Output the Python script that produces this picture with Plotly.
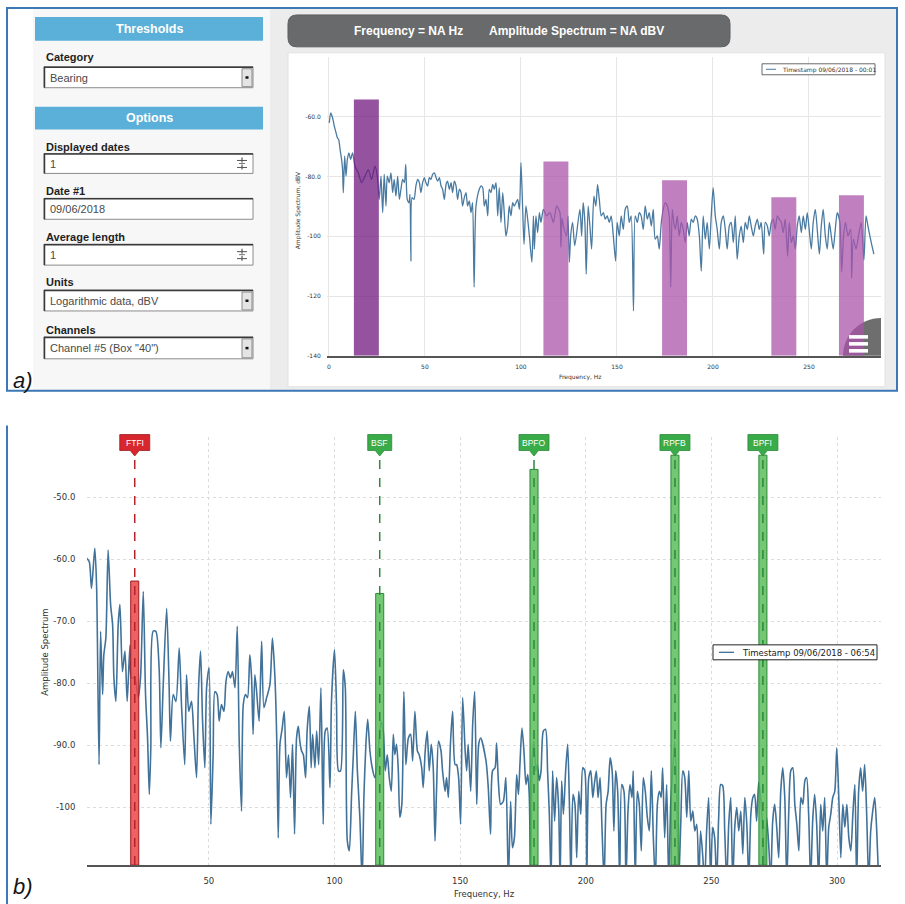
import plotly.graph_objects as go

W, H = 905, 904

# ---------------- spectrum, panel a (Timestamp 09/06/2018 - 00:01) ----------------
TOP_FREQ = [
    0.2, 0.9, 1.9, 2.8, 3.7, 4.4, 5.1, 5.8, 6.6, 7.1, 7.5, 8.2, 8.9, 9.6, 10.4, 11.3, 12.3, 13.6,
    15.3, 17.0, 18.8, 20.5, 22.2, 24.0, 25.2, 26.2, 27.1, 28.0, 28.8, 29.7, 30.4, 31.4, 32.3, 33.2,
    34.0, 34.9, 35.8, 36.7, 37.5, 38.4, 39.3, 40.0, 40.8, 41.7, 42.2, 42.7, 43.3, 44.3, 45.3, 46.2,
    47.1, 47.9, 48.8, 49.7, 50.5, 51.4, 52.3, 53.1, 54.0, 54.9, 55.8, 56.6, 57.5, 58.4, 59.2, 60.1,
    61.0, 61.8, 62.7, 63.6, 64.4, 65.3, 66.2, 67.0, 67.9, 68.8, 69.6, 70.5, 71.4, 72.2, 73.1, 74.0,
    74.8, 75.6, 76.6, 78.3, 79.2, 80.1, 80.9, 81.8, 82.7, 83.5, 84.4, 85.3, 86.1, 87.0, 87.9, 88.7,
    89.6, 90.5, 91.3, 92.2, 93.1, 93.9, 94.8, 95.7, 96.5, 97.4, 98.3, 99.2, 100.0, 100.9, 101.6,
    102.6, 103.5, 104.4, 105.7, 106.5, 107.0, 107.8, 108.7, 109.6, 110.4, 111.7, 113.4, 115.1,
    116.9, 118.6, 120.3, 120.8, 121.4, 122.1, 123.8, 124.5, 125.2, 125.9, 126.9, 128.0,
    130.7, 131.6, 132.4, 133.3, 134.0, 135.0, 135.9, 136.8, 138.0, 139.0, 139.9, 140.8, 141.8,
    142.9, 143.9, 144.9, 146.0, 147.0, 148.1, 149.3, 150.1, 151.2, 152.2, 153.3, 154.3, 155.4,
    156.4, 157.4, 158.6, 159.5, 160.6, 161.6, 162.6, 163.7, 164.7, 165.8, 166.8, 167.9, 168.9,
    169.9, 171.0, 172.0, 173.1, 174.1, 175.1, 176.2, 177.2, 178.0, 178.8, 179.6, 180.4, 181.4,
    182.4, 183.5, 184.5, 185.6, 186.6, 187.6, 188.7, 189.7, 190.8, 191.8, 192.9, 193.9, 194.9,
    196.0, 197.0, 198.1, 199.1, 200.1, 201.2, 202.2, 203.3, 204.3, 205.4, 206.4, 207.4, 208.5,
    209.5, 210.6, 211.6, 212.6, 213.7, 214.7, 215.8, 216.8, 217.9, 218.9, 219.9, 221.0, 222.0,
    223.1, 224.1, 225.1, 226.4, 227.2, 228.3, 229.3, 230.4, 231.4, 232.4, 233.5, 234.5, 235.6,
    236.6, 237.6, 238.9, 239.7, 240.8, 241.8, 242.9, 243.9, 244.9, 246.0, 247.0, 248.1, 249.1,
    250.1, 251.2, 252.2, 253.3, 254.3, 255.4, 256.4, 257.4, 258.5, 259.5, 260.6, 261.6, 262.6,
    263.7, 264.7, 266.1, 267.0, 268.0, 269.0, 270.3, 271.7, 272.2, 273.1, 274.5, 275.8, 277.2,
    278.6, 279.7, 280.7, 281.7, 282.8, 283.8,
]
TOP_AMP = [
    -62.1, -58.8, -60.4, -63.2, -65.4, -67.1, -67.7, -71.0, -74.3, -77.7, -85.4, -73.2, -79.9, -74.3, -72.1, -74.3, -72.1, -76.6,
    -78.8, -82.1, -79.9, -77.7, -81.0, -76.6, -79.9, -87.7, -79.9, -92.1, -79.3, -89.9, -79.9, -82.1, -78.8, -85.4,
    -81.0, -86.6, -79.9, -87.7, -84.3, -81.0, -82.1, -76.0, -87.7, -88.8, -86.0, -108.3, -87.1, -87.7, -83.2, -81.0,
    -82.1, -85.4, -82.1, -80.4, -82.1, -83.2, -80.4, -81.0, -79.3, -78.8, -80.4, -81.6, -80.4, -83.2, -84.3, -87.7,
    -82.7, -81.6, -84.3, -82.1, -85.4, -81.6, -83.2, -87.7, -84.3, -85.4, -89.9, -87.1, -85.4, -89.9, -88.2, -92.1,
    -88.8, -117.0, -89.9, -84.3, -83.2, -83.8, -89.9, -87.7, -93.2, -84.3, -85.4, -82.7, -84.3, -82.1, -93.2, -83.8,
    -95.4, -85.4, -92.1, -100.0, -96.6, -89.9, -93.2, -88.8, -89.9, -88.8, -87.7, -91.0, -75.4, -91.0, -102.7,
    -89.9, -94.3, -99.9, -108.7, -93.2, -104.3, -93.2, -98.8, -92.1, -95.4, -91.0, -93.2, -92.1,
    -95.4, -89.9, -92.1, -103.7, -94.0, -96.6, -99.9, -93.2, -108.7, -99.9, -95.4, -103.2,
    -91.0, -99.9, -88.8, -95.4, -112.7, -89.9, -96.6, -104.3, -86.6, -89.9, -82.7, -87.7, -93.2,
    -92.1, -94.3, -93.2, -95.4, -93.2, -99.9, -108.3, -95.4, -99.9, -93.2, -97.7, -91.0, -89.9,
    -95.4, -93.2, -125.0, -93.2, -95.4, -92.1, -93.2, -97.7, -89.9, -94.3, -92.1, -96.6, -91.0,
    -101.0, -99.9, -104.3, -95.4, -91.0, -88.8, -89.9, -93.2, -117.0, -91.0, -95.4, -97.7, -93.2,
    -99.9, -95.4, -97.7, -102.1, -95.4, -99.9, -94.3, -95.4, -93.2, -94.3, -99.9, -111.7, -93.2,
    -101.0, -95.4, -104.3, -93.2, -83.8, -93.2, -97.7, -104.3, -95.4, -93.2, -97.7, -104.3, -96.6,
    -95.4, -102.1, -93.2, -107.7, -99.9, -96.6, -102.1, -95.4, -97.7, -93.2, -96.6, -99.9, -96.6,
    -94.3, -97.7, -95.4, -106.0, -95.4, -96.6, -99.9, -95.4, -94.3, -97.7, -93.2, -94.3, -95.4,
    -98.8, -94.3, -106.7, -95.4, -102.1, -99.9, -104.3, -96.6, -93.2, -98.8, -93.2, -97.7, -92.1,
    -97.7, -104.3, -95.4, -91.0, -97.7, -106.0, -96.6, -91.0, -99.9, -104.3, -95.4, -99.9, -104.3,
    -97.7, -92.1, -95.4, -112.0, -99.9, -95.4, -99.9, -97.7, -114.0, -101.0, -104.3, -99.9, -95.4,
    -108.0, -93.2, -96.6, -99.9, -103.2, -106.0,
]

# ---------------- spectrum, panel b (Timestamp 09/06/2018 - 06:54) ----------------
BOT_FREQ = [
    1.3, 2.4, 3.3, 4.6, 5.3, 6.3, 6.9, 7.7, 8.2, 9.0, 9.9, 10.9, 11.7, 12.2, 13.0, 13.9, 14.6, 15.6,
    16.6, 17.5, 18.6, 19.2, 20.5, 21.9, 22.8, 23.9, 24.8, 25.6, 26.3, 26.9, 27.8, 28.9, 30.2, 30.9,
    31.8, 33.2, 34.2, 34.7, 35.8, 36.9, 38.2, 39.1, 40.4, 41.1, 42.0, 43.1, 44.0, 45.1, 45.9, 46.7,
    47.5, 48.4, 49.1, 50.1, 50.8, 51.7, 52.4, 53.3, 54.1, 55.0, 56.0, 56.8, 57.7, 58.6, 59.4, 60.4,
    61.3, 62.1, 63.0, 63.7, 64.6, 65.4, 66.3, 67.0, 67.6, 68.3, 69.0, 70.0, 71.0, 71.9, 73.0, 74.3,
    75.3, 76.3, 77.0, 77.6, 78.3, 79.2, 80.0, 80.9, 81.7, 82.5, 83.3, 84.1, 84.9, 85.6, 86.2, 86.9,
    87.6, 88.5, 89.1, 90.0, 90.7, 91.3, 92.2, 92.9, 93.7, 94.6, 95.5, 96.3, 97.1, 98.2, 98.8, 100.0,
    100.8, 101.6, 102.4, 103.5, 104.3, 105.1, 105.9, 106.8, 107.5, 108.3, 109.1, 110.1, 111.0,
    111.7, 112.5, 113.2, 114.1, 115.0, 116.1, 117.0, 117.8, 118.5, 119.4, 120.2, 121.0, 121.8,
    122.6, 123.4, 124.0, 124.7, 125.4, 126.0, 126.8, 127.6, 128.4, 129.4, 130.3, 131.1, 132.0,
    133.0, 133.7, 134.7, 135.3, 136.1, 136.9, 137.7, 138.5, 139.3, 140.0, 140.6, 141.4, 142.4,
    143.0, 144.0, 144.6, 145.3, 146.2, 147.0, 148.0, 148.6, 149.4, 150.2, 151.0, 152.0, 152.6,
    153.2, 154.2, 155.0, 155.8, 156.6, 157.4, 158.2,
    160.3, 161.2, 162.1, 162.9, 163.9, 164.5, 165.2, 166.1, 167.2, 168.2, 169.2, 170.1, 170.8,
    171.6, 172.5, 173.2, 173.8, 174.6, 175.4, 176.2, 176.9, 177.5, 178.1, 178.7, 179.4, 180.1,
    180.7, 181.5, 182.2, 183.1, 184.0, 184.8, 185.5, 186.2, 186.8, 187.6, 188.4, 189.2, 189.8,
    190.4, 191.1, 192.0, 192.8, 193.5, 194.1, 194.9, 195.7, 196.4, 197.2, 198.0, 198.8, 199.6,
    200.4, 201.2, 202.0, 202.8, 203.4, 204.2, 204.9, 205.7, 206.5, 207.3, 208.1, 208.9, 209.7,
    210.5, 211.2, 211.9, 212.7, 213.5, 214.3, 215.2, 216.0, 216.8, 217.6, 218.4, 218.9, 219.7,
    220.5, 221.3, 222.1, 222.9, 223.7, 224.5, 225.3, 226.1, 226.9, 227.7, 228.5, 229.3, 230.0,
    230.6, 231.4, 232.2, 233.0, 233.8, 234.6, 235.4, 236.2, 237.0, 237.8, 238.6, 239.4, 240.2,
    241.0, 241.8, 242.6, 243.4, 244.2, 245.0, 245.7, 246.5, 247.3, 248.1, 248.9, 249.7, 250.5,
    251.3, 252.1, 252.9, 253.7, 254.5, 255.3, 256.1, 256.9, 257.7, 258.5, 259.3, 260.1, 260.9,
    261.7, 262.5, 263.3, 264.1, 264.9, 265.7, 266.5, 267.2, 268.0, 268.8, 269.6, 270.4, 271.2,
    272.0, 272.8, 273.6, 274.4, 275.2, 276.0, 276.8, 277.6, 278.4, 279.2, 280.0, 280.8, 281.6,
    282.4, 283.2, 284.0, 284.8, 285.6, 286.4, 287.2, 287.9, 288.7, 289.5, 290.3, 291.1, 291.9,
    292.7, 293.5, 294.3, 295.1, 295.9, 296.7, 297.5, 298.3, 299.1, 299.9, 300.7, 301.5, 302.3,
    303.1, 303.9, 304.7, 305.5, 306.3, 307.1, 307.8, 308.6, 309.4, 310.2, 311.0, 311.8, 312.6,
    313.4, 314.2, 315.0, 315.8, 316.6,
]
BOT_AMP = [
    -59.8, -60.4, -64.7, -58.2, -64.1, -93.1, -71.6, -81.8, -75.4, -72.7, -58.5, -67.3, -70.6, -79.1, -82.9, -70.6, -67.3, -78.1,
    -74.8, -82.9, -73.8, -79.1, -79.1, -82.3, -79.1, -65.2, -81.8, -88.8, -97.9, -90.4, -71.6, -71.6, -77.5, -90.4,
    -80.7, -67.9, -80.7, -89.3, -81.8, -82.9, -74.3, -83.4, -93.1, -78.6, -84.5, -82.9, -88.2, -95.2, -80.7, -74.8,
    -86.1, -93.6, -80.7, -77.5, -102.7, -91.5, -81.3, -81.8, -86.1, -83.4, -84.5, -79.7, -78.1, -79.1, -78.1, -80.7,
    -70.8, -89.8, -100.6, -83.4, -81.8, -82.3, -75.4, -79.1, -88.2, -78.6, -81.3, -86.1, -73.2, -83.9, -82.3, -80.2,
    -72.7, -79.1, -88.8, -104.9, -89.8, -87.2, -84.5, -95.2, -91.5, -98.4, -89.8, -104.3, -88.8, -86.9, -89.3, -90.9,
    -91.5, -95.2, -87.7, -83.7, -93.6, -88.2, -93.6, -87.7, -93.1, -80.7, -102.7, -87.7, -87.2, -96.8, -82.9, -74.6,
    -83.4, -94.1, -94.1, -77.8, -80.7, -105.4, -107.0, -97.9, -91.5, -84.5, -94.1, -101.6, -112.0,
    -98.4, -89.8, -85.8, -90.9, -93.6, -95.2, -93.1, -88.8, -86.1, -87.7, -94.1, -91.5, -95.2,
    -97.4, -88.2, -91.5, -89.8, -94.1, -101.6, -99.5, -81.3, -93.1, -88.8, -88.2, -92.5, -84.5,
    -90.9, -91.5, -93.6, -96.8, -90.9, -87.7, -94.1, -89.8, -93.6, -105.4, -97.4, -89.3, -90.9,
    -94.1, -97.4, -95.2, -98.4, -89.3, -84.5, -93.1, -93.1, -95.2, -102.7, -82.3, -90.9, -94.1,
    -89.8, -97.4, -86.6, -81.3, -99.5, -89.8, -88.8,
    -92.5, -96.8, -104.3, -94.1, -93.6, -89.6, -95.7, -99.5, -99.0, -95.2, -112.0, -99.0, -106.5,
    -104.9, -94.7, -97.9, -93.1, -87.2, -90.9, -96.3, -94.7, -97.9, -112.0, -92.0, -89.3, -94.1,
    -93.1, -95.7, -94.1, -87.7, -87.4, -94.1, -101.1, -112.0, -94.1, -102.2, -95.2, -100.0, -112.0,
    -95.7, -101.1, -94.1, -89.8, -99.5, -112.0, -97.9, -99.5, -108.1, -97.4, -101.1, -93.6, -94.1,
    -112.0, -95.2, -94.1, -98.4, -96.3, -94.1, -98.4, -95.2, -103.8, -112.0, -99.5, -97.4, -92.0,
    -94.1, -103.8, -94.1, -97.4, -112.0, -96.3, -97.4, -112.0, -100.6, -96.3, -98.4, -94.1, -112.0,
    -97.4, -99.5, -107.0, -95.2, -97.4, -101.6, -103.8, -94.1, -104.9, -112.0, -99.5, -97.4, -98.4,
    -93.6, -104.9, -96.3, -112.0, -99.5, -94.1, -89.3, -97.4, -112.0, -102.7, -94.1, -95.2, -101.6,
    -94.1, -102.2, -100.6, -103.8, -102.7, -112.0, -103.8, -107.5, -112.0, -103.8, -98.4, -112.0, -103.2,
    -104.9, -112.0, -101.6, -96.3, -96.5, -103.8, -112.0, -102.7, -98.4, -112.0, -103.2, -100.0, -103.8,
    -100.6, -107.5, -98.4, -102.7, -112.0, -101.1, -98.4, -97.9, -102.2, -96.0, -98.4, -103.2, -112.0,
    -101.6, -105.9, -112.0, -102.2, -99.5, -103.2, -108.1, -97.4, -93.6, -98.4, -112.0, -100.6, -94.1,
    -93.6, -99.5, -102.7, -107.0, -98.4, -99.5, -95.7, -95.2, -101.1, -112.0, -102.2, -97.9, -102.7,
    -112.0, -99.5, -103.8, -98.4, -112.0, -103.2, -101.1, -98.4, -97.4, -90.4, -98.4, -108.1, -99.5,
    -103.2, -99.5, -104.9, -107.0, -101.1, -96.3, -112.0, -97.4, -93.6, -97.4, -93.1, -101.1, -112.0,
    -103.8, -100.6, -98.4, -103.8, -112.0,
]

# ---------------- bearing fault bands / markers ----------------
BAND_CENTER = [19.5, 118.2, 180.0, 236.9, 272.1]     # Hz
BAND_LEVEL = [-54.3, -75.0, -81.3, -87.0, -86.3]     # dBV
BAND_WIDTH = 13.0                                    # Hz

MARK_NAMES = ["FTFI", "BSF", "BPFO", "RPFB", "BPFI"]
MARK_FREQ = [20.5, 118.0, 179.4, 235.5, 270.5]       # Hz
MARK_LEVEL = [-63.5, -65.5, -45.5, -43.2, -43.2]     # dBV
MARK_ALARM = [True, False, False, False, False]
MARK_HALF_WIDTH = 1.6                                # Hz

# ---------------- axes ----------------
TOP_XTICKS = [0, 50, 100, 150, 200, 250]
TOP_YTICKS = [-140, -120, -100, -80, -60]
TOP_YTEXT = ["-140", "-120", "-100", "-80.0", "-60.0"]
TOP_XRANGE = [-1, 287.5]
TOP_YRANGE = [-140, -40]

BOT_XTICKS = [50, 100, 150, 200, 250, 300]
BOT_YTICKS = [-100, -90, -80, -70, -60, -50]
BOT_YTEXT = ["-100", "-90.0", "-80.0", "-70.0", "-60.0", "-50.0"]
BOT_XRANGE = [1.5, 317.5]
BOT_YRANGE = [-109.3, -40.2]

LINE_BLUE = "#4a7aa0"
CHART_FONT = "DejaVu Sans"
UI_FONT = "Liberation Sans"


def fx(px):
    return px / W


def fy(py):
    return 1 - py / H


def rect(x0, y0, x1, y1, fill, line=None, lw=0, layer="below"):
    return dict(type="rect", xref="paper", yref="paper",
                x0=fx(x0), x1=fx(x1), y0=fy(y1), y1=fy(y0),
                fillcolor=fill, layer=layer,
                line=dict(color=line or "rgba(0,0,0,0)", width=lw))


def hline(x0, x1, y, color, lw=1, layer="below", dash="solid"):
    return dict(type="line", xref="paper", yref="paper", x0=fx(x0), x1=fx(x1),
                y0=fy(y), y1=fy(y), layer=layer, line=dict(color=color, width=lw, dash=dash))


def vline(x, y0, y1, color, lw=1, layer="below"):
    return dict(type="line", xref="paper", yref="paper", x0=fx(x), x1=fx(x),
                y0=fy(y0), y1=fy(y1), layer=layer, line=dict(color=color, width=lw))


def ppath(points, closed=True):
    parts = []
    for cmd, pts in points:
        parts.append(cmd + " " + " ".join(f"{fx(a):.5f},{fy(b):.5f}" for a, b in pts))
    return " ".join(parts) + (" Z" if closed else "")


def rounded(x0, y0, x1, y1, r):
    return ppath([
        ("M", [(x0 + r, y0)]), ("L", [(x1 - r, y0)]), ("Q", [(x1, y0), (x1, y0 + r)]),
        ("L", [(x1, y1 - r)]), ("Q", [(x1, y1), (x1 - r, y1)]), ("L", [(x0 + r, y1)]),
        ("Q", [(x0, y1), (x0, y1 - r)]), ("L", [(x0, y0 + r)]), ("Q", [(x0, y0), (x0 + r, y0)]),
    ])


def label(px, py, s, size, color="#222", anchor="left", family=UI_FONT, angle=0):
    return dict(x=fx(px), y=fy(py), xref="paper", yref="paper", text=s, showarrow=False,
                xanchor=anchor, yanchor="middle", textangle=angle,
                font=dict(family=family, size=size, color=color))


shapes = []
annotations = []

# ---------------- panel a: page background ----------------
shapes.append(rect(270, 9, 896, 391, "#ececec"))
shapes.append(rect(33, 9, 270, 391, "#f7f7f7"))
shapes.append(rect(7, 8, 897, 392, "rgba(0,0,0,0)", "#3b78b5", 2))
shapes.append(rect(288, 53, 885, 388, "#ffffff", "#e2e2e2", 1))
shapes.append(dict(type="path", xref="paper", yref="paper", path=rounded(288, 15, 730, 47, 9),
                   fillcolor="#686a6c", line=dict(color="#5c5e60", width=1), layer="below"))
annotations.append(label(352, 31.5, "<b>Frequency = NA Hz</b>", 12, "#ffffff"))
annotations.append(label(487, 31.5, "<b>Amplitude Spectrum = NA dBV</b>", 12, "#ffffff"))

# side panel headers
shapes.append(rect(35, 17, 263, 41, "#5ab0d8"))
annotations.append(label(149, 29.5, "<b>Thresholds</b>", 12.5, "#ffffff", anchor="center"))
shapes.append(rect(35, 107, 263, 130, "#5ab0d8"))
annotations.append(label(149, 118.5, "<b>Options</b>", 12.5, "#ffffff", anchor="center"))

# form fields: label, label y, box top, box bottom, value, widget kind
FORM = [
    ("Category", 57, 67, 88, "Bearing", "select"),
    ("Displayed dates", 147, 154, 174, "1", "spin"),
    ("Date #1", 192, 199, 220, "09/06/2018", "text"),
    ("Average length", 238, 245, 266, "1", "spin"),
    ("Units", 283, 291, 312, "Logarithmic data, dBV", "select"),
    ("Channels", 331, 338, 360, 'Channel #5 (Box "40")', "select"),
]
for name, ly, b0, b1, value, kind in FORM:
    annotations.append(label(44, ly, f"<b>{name}</b>", 11, "#1e1e1e"))
    shapes.append(rect(44, b0, 253, b1, "#ffffff", "#8c8c8c", 1))
    shapes.append(hline(44, 253, b0 + 0.5, "#3a3a3a", 1.5))
    shapes.append(vline(44.5, b0, b1, "#3a3a3a", 1.5))
    annotations.append(label(48, (b0 + b1) / 2 + 0.5, value, 11, "#4a4a4a"))
    mid = (b0 + b1) / 2
    if kind == "select":
        shapes.append(rect(242, b0 + 2, 252, b1 - 1, "#e4e4e4", "#8a8a8a", 1))
        shapes.append(rect(245.5, mid - 1, 248.5, mid + 1.5, "#111111"))
    elif kind == "spin":
        shapes.append(hline(237, 247, mid - 3, "#555555", 1))
        shapes.append(hline(237, 247, mid + 4, "#555555", 1))
        shapes.append(vline(242, mid - 6, mid - 1, "#555555", 1.2))
        shapes.append(vline(242, mid + 1, mid + 6, "#555555", 1.2))
        shapes.append(hline(239, 245, mid, "#777777", 1))

annotations.append(label(11, 382, "<i>a)</i>", 22, "#151515"))

# ---------------- panel b: frame ----------------
shapes.append(dict(type="path", xref="paper", yref="paper",
                   path=ppath([("M", [(7, 910)]), ("L", [(7, 427), (897, 427), (897, 910)])], closed=False),
                   line=dict(color="#3b78b5", width=2), layer="below"))
annotations.append(label(11, 889, "<i>b)</i>", 22, "#151515"))

# ---------------- traces ----------------
fig = go.Figure()
fig.add_trace(go.Scatter(x=TOP_FREQ, y=TOP_AMP, mode="lines", xaxis="x", yaxis="y",
                         name="Timestamp 09/06/2018 - 00:01",
                         line=dict(color=LINE_BLUE, width=1.3, shape="spline", smoothing=0.7),
                         showlegend=False))
fig.add_trace(go.Scatter(x=BOT_FREQ, y=BOT_AMP, mode="lines", xaxis="x2", yaxis="y2",
                         name="Timestamp 09/06/2018 - 06:54",
                         line=dict(color="#41729a", width=1.6, shape="spline", smoothing=0.7),
                         showlegend=False))

# menu button in the corner of panel a chart
R = 38
cx, cy = 881, 357
shapes.append(dict(type="path", xref="paper", yref="paper", layer="above",
                   path=ppath([("M", [(cx - R, cy)]),
                               ("C", [(cx - R, cy - 0.552 * R), (cx - 0.552 * R, cy - R), (cx, cy - R)]),
                               ("L", [(cx, cy)])]),
                   fillcolor="#6e6e6e", line=dict(width=0)))

# fault-frequency bands over the panel a spectrum
for i, (c, lvl) in enumerate(zip(BAND_CENTER, BAND_LEVEL)):
    fill = "rgba(112,22,126,0.74)" if i == 0 else "rgba(170,84,170,0.74)"
    shapes.append(dict(type="rect", xref="x", yref="y", x0=c - BAND_WIDTH / 2, x1=c + BAND_WIDTH / 2,
                       y0=TOP_YRANGE[0], y1=lvl, fillcolor=fill, line=dict(width=0), layer="above"))

for y in (338, 345, 352):
    shapes.append(rect(849, y - 1.8, 868, y + 1.8, "#ffffff", layer="above"))

# panel a legend
shapes.append(rect(762, 64, 875, 75, "#ffffff", "#444444", 0.8, layer="above"))
shapes.append(hline(766, 776, 69.5, LINE_BLUE, 1, layer="above"))
annotations.append(label(780, 69.8, "Timestamp 09/06/2018 - 00:01", 6, "#333333", family=CHART_FONT))

# panel a axis titles
annotations.append(label(580, 378.5, "Frequency, Hz", 6, "#333333", anchor="center", family=CHART_FONT))
annotations.append(label(298, 211, "Amplitude Spectrum, dBV", 6, "#333333", anchor="center",
                         family=CHART_FONT, angle=-90))

# fault markers over the panel b spectrum
for name, f, lvl, alarm in zip(MARK_NAMES, MARK_FREQ, MARK_LEVEL, MARK_ALARM):
    if alarm:
        flag, edge, band, dash = "#d7262d", "#a01c20", "rgba(236,70,72,0.85)", "#b5222a"
    else:
        flag, edge, band, dash = "#3aab49", "#2a8a37", "rgba(92,190,92,0.85)", "#2b8a3a"
    shapes.append(dict(type="rect", xref="x2", yref="y2", x0=f - MARK_HALF_WIDTH, x1=f + MARK_HALF_WIDTH,
                       y0=BOT_YRANGE[0], y1=lvl, fillcolor=band, line=dict(color=edge, width=1),
                       layer="above"))
    shapes.append(dict(type="line", xref="x2", yref="paper", x0=f, x1=f, y0=fy(868), y1=fy(457),
                       line=dict(color=dash, width=1.5, dash="dash"), layer="above"))
    hw = (6 * len(name) + 6) / 2
    yt, yb, ytip = fy(436), fy(452), fy(457.5)
    shapes.append(dict(type="path", xref="x2", yref="paper", xsizemode="pixel", xanchor=f,
                       path=(f"M {-hw},{yt} L {hw},{yt} L {hw},{yb} L 4.5,{yb} L 0,{ytip} "
                             f"L -4.5,{yb} L {-hw},{yb} Z"),
                       fillcolor=flag, line=dict(color=edge, width=0.8), layer="above"))
    annotations.append(dict(x=f, y=fy(444.5), xref="x2", yref="paper", text=name, showarrow=False,
                            xanchor="center", yanchor="middle",
                            font=dict(family=UI_FONT, size=8.5, color="#ffffff")))

# panel b legend
shapes.append(rect(713, 647, 877, 662, "#ffffff", "#222222", 1, layer="above"))
shapes.append(hline(719, 734, 654.5, "#41729a", 1.3, layer="above"))
annotations.append(label(740, 655, "Timestamp 09/06/2018 - 06:54", 8.5, "#222222", family=CHART_FONT))

# panel b axis titles
annotations.append(label(484, 897, "Frequency, Hz", 8.5, "#333333", anchor="center", family=CHART_FONT))
annotations.append(label(45, 655, "Amplitude Spectrum", 8.5, "#333333", anchor="center",
                         family=CHART_FONT, angle=-90))

fig.update_layout(
    width=W, height=H, margin=dict(l=0, r=0, t=0, b=0),
    paper_bgcolor="#ffffff", plot_bgcolor="rgba(0,0,0,0)",
    showlegend=False,
    xaxis=dict(domain=[fx(327), fx(881)], range=TOP_XRANGE, anchor="y",
               tickvals=TOP_XTICKS, ticks="outside", ticklen=4, tickcolor="rgba(0,0,0,0)",
               tickfont=dict(family=CHART_FONT, size=6, color="#333333"),
               showgrid=True, gridcolor="#e6e6e6", gridwidth=1, zeroline=False,
               showline=True, linecolor="#555555", linewidth=1.5),
    yaxis=dict(domain=[fy(357), fy(57)], range=TOP_YRANGE, anchor="x",
               tickvals=TOP_YTICKS, ticktext=TOP_YTEXT, ticks="outside", ticklen=4,
               tickcolor="rgba(0,0,0,0)",
               tickfont=dict(family=CHART_FONT, size=6, color="#333333"),
               showgrid=True, gridcolor="#e6e6e6", gridwidth=1, zeroline=False, showline=False),
    xaxis2=dict(domain=[fx(87), fx(881)], range=BOT_XRANGE, anchor="y2",
                tickvals=BOT_XTICKS, ticks="outside", ticklen=7, tickcolor="rgba(0,0,0,0)",
                tickfont=dict(family=CHART_FONT, size=8.5, color="#333333"),
                showgrid=True, gridcolor="#dcdcdc", gridwidth=1, griddash="dot", zeroline=False,
                showline=True, linecolor="#555555", linewidth=2),
    yaxis2=dict(domain=[fy(868), fy(438)], range=BOT_YRANGE, anchor="x2",
                tickvals=BOT_YTICKS, ticktext=BOT_YTEXT, ticks="outside", ticklen=9,
                tickcolor="rgba(0,0,0,0)",
                tickfont=dict(family=CHART_FONT, size=8.5, color="#333333"),
                showgrid=True, gridcolor="#dcdcdc", gridwidth=1, griddash="dot", zeroline=False,
                showline=False),
    shapes=shapes,
    annotations=annotations,
)

fig.write_html("out.html")
